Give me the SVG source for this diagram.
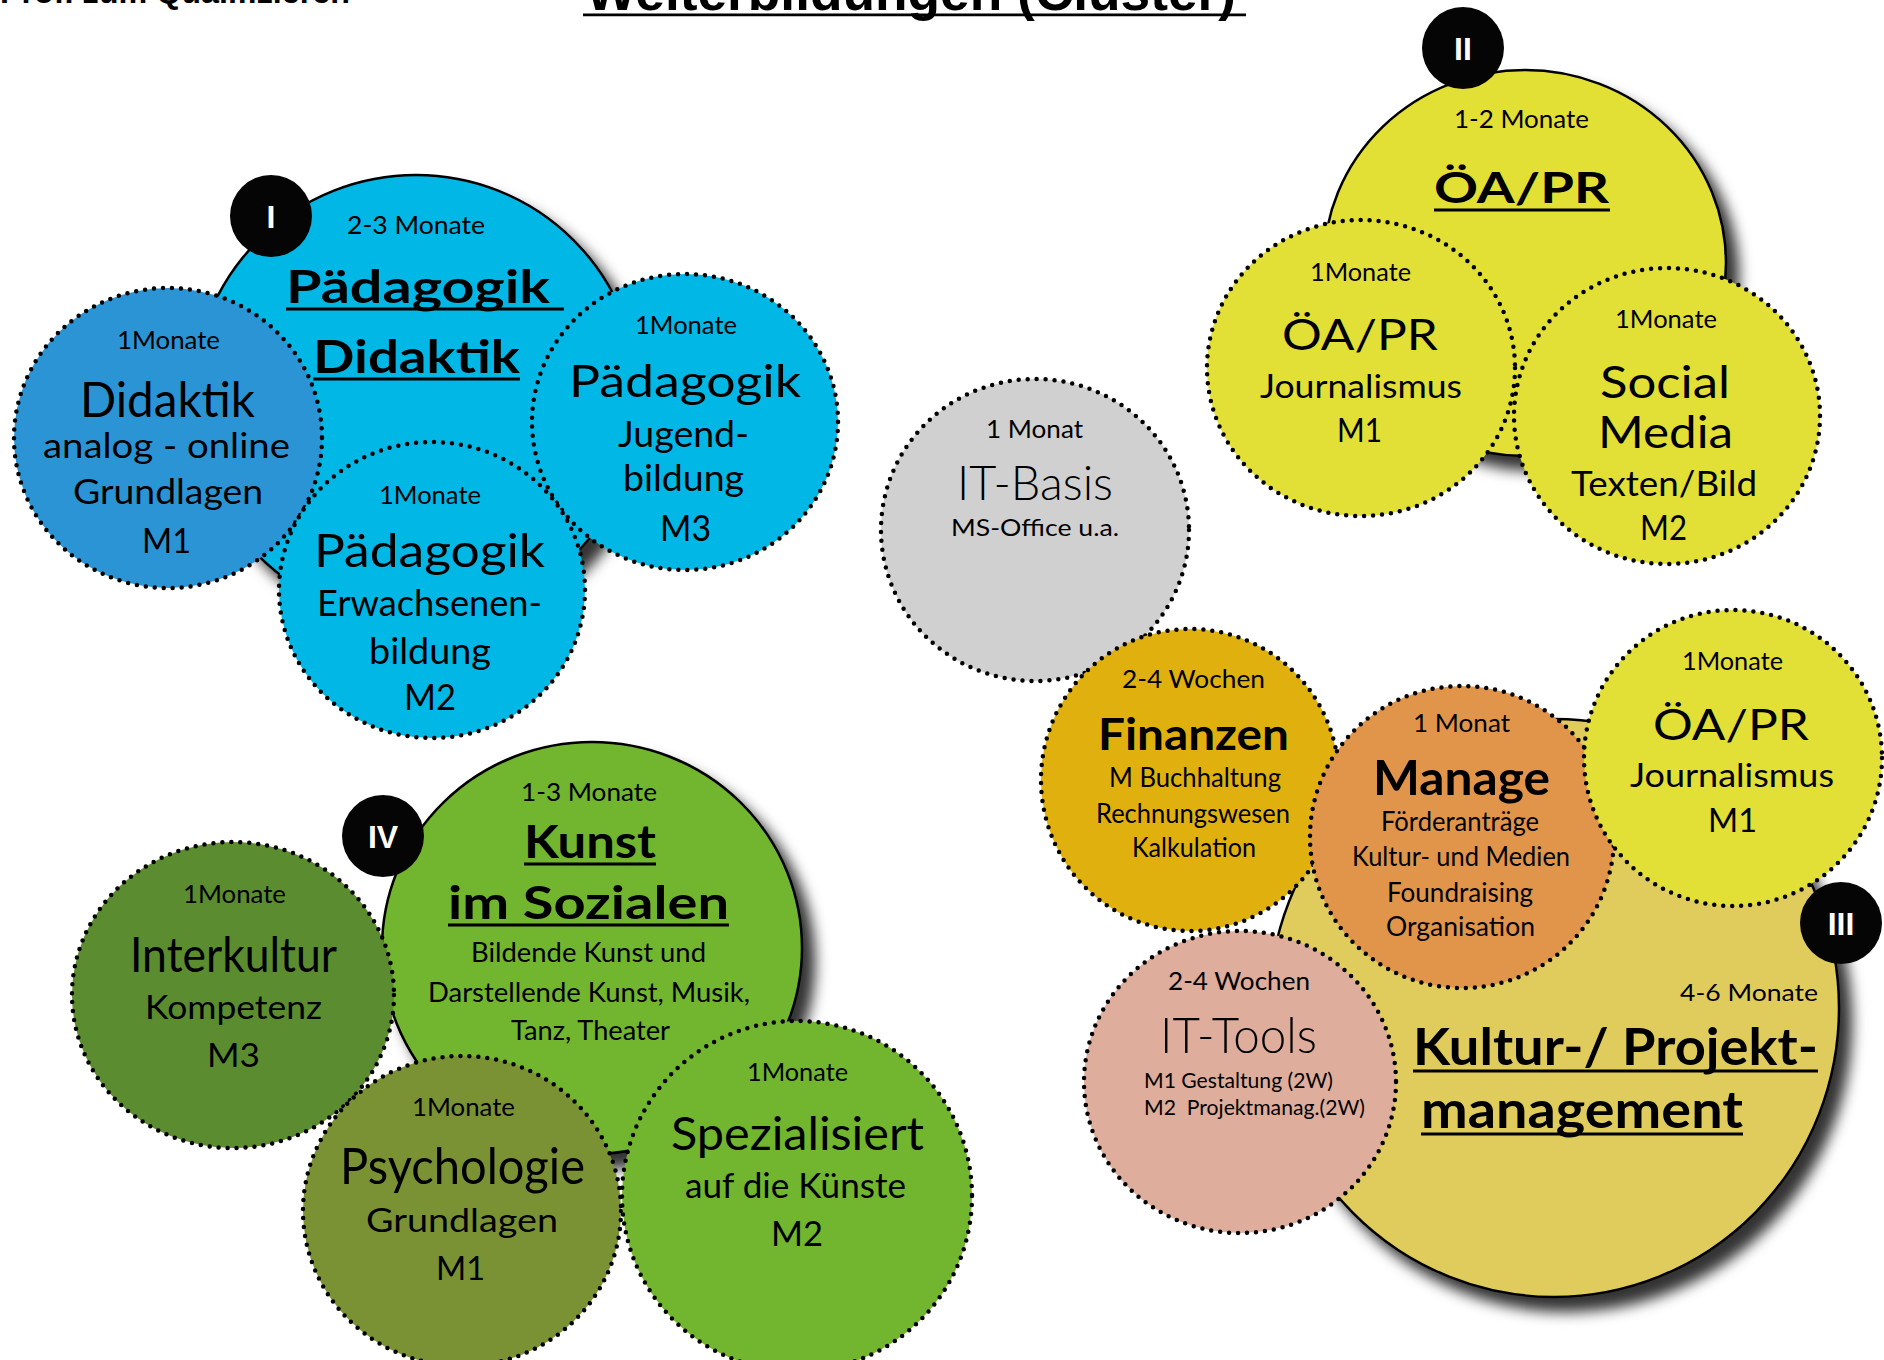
<svg xmlns="http://www.w3.org/2000/svg" width="1884" height="1360" viewBox="0 0 1884 1360">
<defs>
<filter id="sh" x="-20%" y="-20%" width="150%" height="150%">
<feDropShadow dx="12" dy="14" stdDeviation="7" flood-color="#000" flood-opacity="0.8"/>
</filter>
</defs>
<style>
.big{stroke:#000;stroke-width:2.5;filter:url(#sh)}
.dot{stroke:#000;stroke-width:4.5;stroke-dasharray:0 9;stroke-linecap:round}
text{font-family:Lato,"Noto Sans",sans-serif;fill:#000;font-weight:400}
.b{font-weight:700}
.lt{font-weight:300}
.ul{stroke:#000;stroke-width:3}
.badge circle{fill:#050505}
.badge text{font-family:"Liberation Sans",Arial,sans-serif;font-weight:700;font-size:32px;fill:#fff;text-anchor:middle}
.hd{font-family:"Liberation Sans",Arial,sans-serif;font-weight:700}
.blue{fill:#00b7e5}
.dblue{fill:#2b94d5}
.yel{fill:#e2df36}
.gray{fill:#d0d0d0}
.mus{fill:#e0b10e}
.ora{fill:#e0954a}
.kha{fill:#e0cc5d}
.pink{fill:#dead9c}
.grn{fill:#72b52e}
.dgrn{fill:#5b8c2f}
.olv{fill:#7a9234}
</style>

<g id="header">
<text class="hd" x="0" y="3" font-size="32" textLength="350" lengthAdjust="spacingAndGlyphs">Prof. zum Qualifizieren</text>
<text class="hd" x="586" y="10" font-size="54" textLength="650" lengthAdjust="spacingAndGlyphs">Weiterbildungen (Cluster)</text>
<line x1="583" y1="14.8" x2="1246" y2="14.8" stroke="#000" stroke-width="2.7"/>
</g>

<g id="connectors"></g>

<!-- Cluster I -->
<g id="cluster-I">
<circle class="big blue" cx="416" cy="398" r="223"/>
<g class="badge" id="badge-I"><circle cx="271" cy="216" r="41"/><text x="271" y="228">I</text></g>
<text x="347" y="234" font-size="25" textLength="138" lengthAdjust="spacingAndGlyphs">2-3 Monate</text>
<text class="b" x="286" y="303" font-size="45" textLength="264" lengthAdjust="spacingAndGlyphs">Pädagogik</text>
<line class="ul" x1="286" y1="309" x2="564" y2="309"/>
<text class="b" x="313" y="373" font-size="45" textLength="207" lengthAdjust="spacingAndGlyphs">Didaktik</text>
<line class="ul" x1="313" y1="379" x2="520" y2="379"/>
</g>

<g id="node-didaktik-m1">
<ellipse class="dot dblue" cx="168" cy="438" rx="154" ry="150"/>
<text x="117" y="349" font-size="25" textLength="103" lengthAdjust="spacingAndGlyphs">1Monate</text>
<text x="80" y="417" font-size="48" textLength="175" lengthAdjust="spacingAndGlyphs">Didaktik</text>
<text x="43" y="458" font-size="34" textLength="247" lengthAdjust="spacingAndGlyphs">analog - online</text>
<text x="73" y="504" font-size="34" textLength="190" lengthAdjust="spacingAndGlyphs">Grundlagen</text>
<text x="142" y="553" font-size="34" textLength="49" lengthAdjust="spacingAndGlyphs">M1</text>
</g>

<g id="node-paed-jugend-m3">
<ellipse class="dot blue" cx="685" cy="422" rx="153" ry="148"/>
<text x="635" y="334" font-size="25" textLength="102" lengthAdjust="spacingAndGlyphs">1Monate</text>
<text x="569" y="397" font-size="45" textLength="232" lengthAdjust="spacingAndGlyphs">Pädagogik</text>
<text x="618" y="447" font-size="36" textLength="131" lengthAdjust="spacingAndGlyphs">Jugend-</text>
<text x="623" y="491" font-size="36" textLength="121" lengthAdjust="spacingAndGlyphs">bildung</text>
<text x="660" y="541" font-size="36" textLength="51" lengthAdjust="spacingAndGlyphs">M3</text>
</g>

<g id="node-paed-erw-m2">
<ellipse class="dot blue" cx="432" cy="590" rx="153" ry="148"/>
<text x="379" y="504" font-size="25" textLength="102" lengthAdjust="spacingAndGlyphs">1Monate</text>
<text x="314" y="567" font-size="46" textLength="231" lengthAdjust="spacingAndGlyphs">Pädagogik</text>
<text x="317" y="616" font-size="36" textLength="225" lengthAdjust="spacingAndGlyphs">Erwachsenen-</text>
<text x="369" y="664" font-size="36" textLength="122" lengthAdjust="spacingAndGlyphs">bildung</text>
<text x="404" y="710" font-size="36" textLength="52" lengthAdjust="spacingAndGlyphs">M2</text>
</g>

<!-- Cluster II -->
<g id="cluster-II">
<ellipse class="big yel" cx="1525" cy="263" rx="201" ry="193"/>
<g class="badge" id="badge-II"><circle cx="1463" cy="48" r="41"/><text x="1463" y="60">II</text></g>
<text x="1454" y="128" font-size="25" textLength="135" lengthAdjust="spacingAndGlyphs">1-2 Monate</text>
<text class="b" x="1434" y="203" font-size="42" textLength="175" lengthAdjust="spacingAndGlyphs">ÖA/PR</text>
<line class="ul" x1="1434" y1="210" x2="1610" y2="210"/>
</g>

<g id="node-oapr-journ-m1">
<ellipse class="dot yel" cx="1361" cy="368" rx="154" ry="148"/>
<text x="1310" y="281" font-size="25" textLength="101" lengthAdjust="spacingAndGlyphs">1Monate</text>
<text x="1282" y="350" font-size="42" textLength="156" lengthAdjust="spacingAndGlyphs">ÖA/PR</text>
<text x="1260" y="398" font-size="32" textLength="202" lengthAdjust="spacingAndGlyphs">Journalismus</text>
<text x="1337" y="442" font-size="32" textLength="45" lengthAdjust="spacingAndGlyphs">M1</text>
</g>

<g id="node-social-media-m2">
<ellipse class="dot yel" cx="1667" cy="416" rx="153" ry="148"/>
<text x="1615" y="328" font-size="25" textLength="102" lengthAdjust="spacingAndGlyphs">1Monate</text>
<text x="1600" y="398" font-size="45" textLength="130" lengthAdjust="spacingAndGlyphs">Social</text>
<text x="1598" y="448" font-size="45" textLength="135" lengthAdjust="spacingAndGlyphs">Media</text>
<text x="1571" y="496" font-size="34" textLength="186" lengthAdjust="spacingAndGlyphs">Texten/Bild</text>
<text x="1640" y="540" font-size="34" textLength="47" lengthAdjust="spacingAndGlyphs">M2</text>
</g>

<g id="node-it-basis">
<ellipse class="dot gray" cx="1035" cy="530" rx="154" ry="151"/>
<text x="986" y="438" font-size="25" textLength="97" lengthAdjust="spacingAndGlyphs">1 Monat</text>
<text class="lt" x="957" y="500" font-size="47" textLength="156" lengthAdjust="spacingAndGlyphs">IT-Basis</text>
<text x="951" y="536" font-size="24" textLength="168" lengthAdjust="spacingAndGlyphs">MS-Office u.a.</text>
</g>

<!-- Cluster III -->
<g id="cluster-III">
<ellipse class="big kha" cx="1554" cy="1008" rx="285" ry="289"/>
<text x="1680" y="1001" font-size="24" textLength="138" lengthAdjust="spacingAndGlyphs">4-6 Monate</text>
<text class="b" x="1413" y="1065" font-size="51" textLength="405" lengthAdjust="spacingAndGlyphs">Kultur-/ Projekt-</text>
<line class="ul" x1="1413" y1="1071" x2="1818" y2="1071"/>
<text class="b" x="1421" y="1128" font-size="51" textLength="322" lengthAdjust="spacingAndGlyphs">management</text>
<line class="ul" x1="1421" y1="1134" x2="1743" y2="1134"/>
</g>

<g id="node-finanzen">
<ellipse class="dot mus" cx="1190" cy="780" rx="149" ry="151"/>
<text x="1122" y="688" font-size="25" textLength="143" lengthAdjust="spacingAndGlyphs">2-4 Wochen</text>
<text class="b" x="1098" y="750" font-size="44" textLength="191" lengthAdjust="spacingAndGlyphs">Finanzen</text>
<text x="1109" y="787" font-size="26" textLength="172" lengthAdjust="spacingAndGlyphs">M Buchhaltung</text>
<text x="1096" y="823" font-size="26" textLength="194" lengthAdjust="spacingAndGlyphs">Rechnungswesen</text>
<text x="1132" y="857" font-size="26" textLength="124" lengthAdjust="spacingAndGlyphs">Kalkulation</text>
</g>

<g id="node-manage">
<ellipse class="dot ora" cx="1462" cy="837" rx="152" ry="151"/>
<text x="1413" y="732" font-size="25" textLength="97" lengthAdjust="spacingAndGlyphs">1 Monat</text>
<text class="b" x="1373" y="795" font-size="47" textLength="177" lengthAdjust="spacingAndGlyphs">Manage</text>
<text x="1381" y="831" font-size="26" textLength="158" lengthAdjust="spacingAndGlyphs">Förderanträge</text>
<text x="1352" y="866" font-size="26" textLength="218" lengthAdjust="spacingAndGlyphs">Kultur- und Medien</text>
<text x="1387" y="902" font-size="26" textLength="146" lengthAdjust="spacingAndGlyphs">Foundraising</text>
<text x="1386" y="936" font-size="26" textLength="149" lengthAdjust="spacingAndGlyphs">Organisation</text>
</g>

<g id="node-oapr-journ-m1-b">
<ellipse class="dot yel" cx="1733" cy="758" rx="149" ry="148"/>
<text x="1682" y="670" font-size="25" textLength="101" lengthAdjust="spacingAndGlyphs">1Monate</text>
<text x="1653" y="740" font-size="42" textLength="156" lengthAdjust="spacingAndGlyphs">ÖA/PR</text>
<text x="1630" y="787" font-size="32" textLength="204" lengthAdjust="spacingAndGlyphs">Journalismus</text>
<text x="1708" y="832" font-size="32" textLength="49" lengthAdjust="spacingAndGlyphs">M1</text>
</g>

<g id="node-it-tools">
<ellipse class="dot pink" cx="1240" cy="1082" rx="156" ry="151"/>
<text x="1168" y="990" font-size="25" textLength="142" lengthAdjust="spacingAndGlyphs">2-4 Wochen</text>
<text class="lt" x="1160" y="1053" font-size="49" textLength="157" lengthAdjust="spacingAndGlyphs">IT-Tools</text>
<text x="1144" y="1088" font-size="21" textLength="189" lengthAdjust="spacingAndGlyphs">M1 Gestaltung (2W)</text>
<text x="1144" y="1115" font-size="21" textLength="221" lengthAdjust="spacingAndGlyphs" style="white-space:pre">M2  Projektmanag.(2W)</text>
</g>

<g class="badge" id="badge-III"><circle cx="1841" cy="923" r="41"/><text x="1841" y="935">III</text></g>

<!-- Cluster IV -->
<g id="cluster-IV">
<ellipse class="big grn" cx="592" cy="948" rx="210" ry="206"/>
<g class="badge" id="badge-IV"><circle cx="383" cy="836" r="41"/><text x="383" y="848">IV</text></g>
<text x="521" y="801" font-size="25" textLength="136" lengthAdjust="spacingAndGlyphs">1-3 Monate</text>
<text class="b" x="524" y="858" font-size="45" textLength="132" lengthAdjust="spacingAndGlyphs">Kunst</text>
<line class="ul" x1="524" y1="864" x2="656" y2="864"/>
<text class="b" x="448" y="919" font-size="45" textLength="281" lengthAdjust="spacingAndGlyphs">im Sozialen</text>
<line class="ul" x1="448" y1="925" x2="729" y2="925"/>
<text x="471" y="962" font-size="27" textLength="235" lengthAdjust="spacingAndGlyphs">Bildende Kunst und</text>
<text x="428" y="1002" font-size="27" textLength="322" lengthAdjust="spacingAndGlyphs">Darstellende Kunst, Musik,</text>
<text x="511" y="1040" font-size="27" textLength="159" lengthAdjust="spacingAndGlyphs">Tanz, Theater</text>
</g>

<g id="node-interkultur-m3">
<ellipse class="dot dgrn" cx="233" cy="995" rx="161" ry="153"/>
<text x="183" y="903" font-size="25" textLength="103" lengthAdjust="spacingAndGlyphs">1Monate</text>
<text x="130" y="972" font-size="49" textLength="207" lengthAdjust="spacingAndGlyphs">Interkultur</text>
<text x="145" y="1019" font-size="33" textLength="177" lengthAdjust="spacingAndGlyphs">Kompetenz</text>
<text x="207" y="1067" font-size="33" textLength="53" lengthAdjust="spacingAndGlyphs">M3</text>
</g>

<g id="node-psychologie-m1">
<ellipse class="dot olv" cx="462" cy="1211" rx="159" ry="155"/>
<text x="412" y="1116" font-size="25" textLength="103" lengthAdjust="spacingAndGlyphs">1Monate</text>
<text x="340" y="1184" font-size="50" textLength="245" lengthAdjust="spacingAndGlyphs">Psychologie</text>
<text x="366" y="1232" font-size="33" textLength="192" lengthAdjust="spacingAndGlyphs">Grundlagen</text>
<text x="436" y="1280" font-size="33" textLength="49" lengthAdjust="spacingAndGlyphs">M1</text>
</g>

<g id="node-spezialisiert-m2">
<ellipse class="dot grn" cx="797" cy="1196" rx="175" ry="175"/>
<text x="747" y="1081" font-size="25" textLength="101" lengthAdjust="spacingAndGlyphs">1Monate</text>
<text x="671" y="1150" font-size="46" textLength="253" lengthAdjust="spacingAndGlyphs">Spezialisiert</text>
<text x="685" y="1198" font-size="34" textLength="221" lengthAdjust="spacingAndGlyphs">auf die Künste</text>
<text x="771" y="1246" font-size="34" textLength="52" lengthAdjust="spacingAndGlyphs">M2</text>
</g>
</svg>
